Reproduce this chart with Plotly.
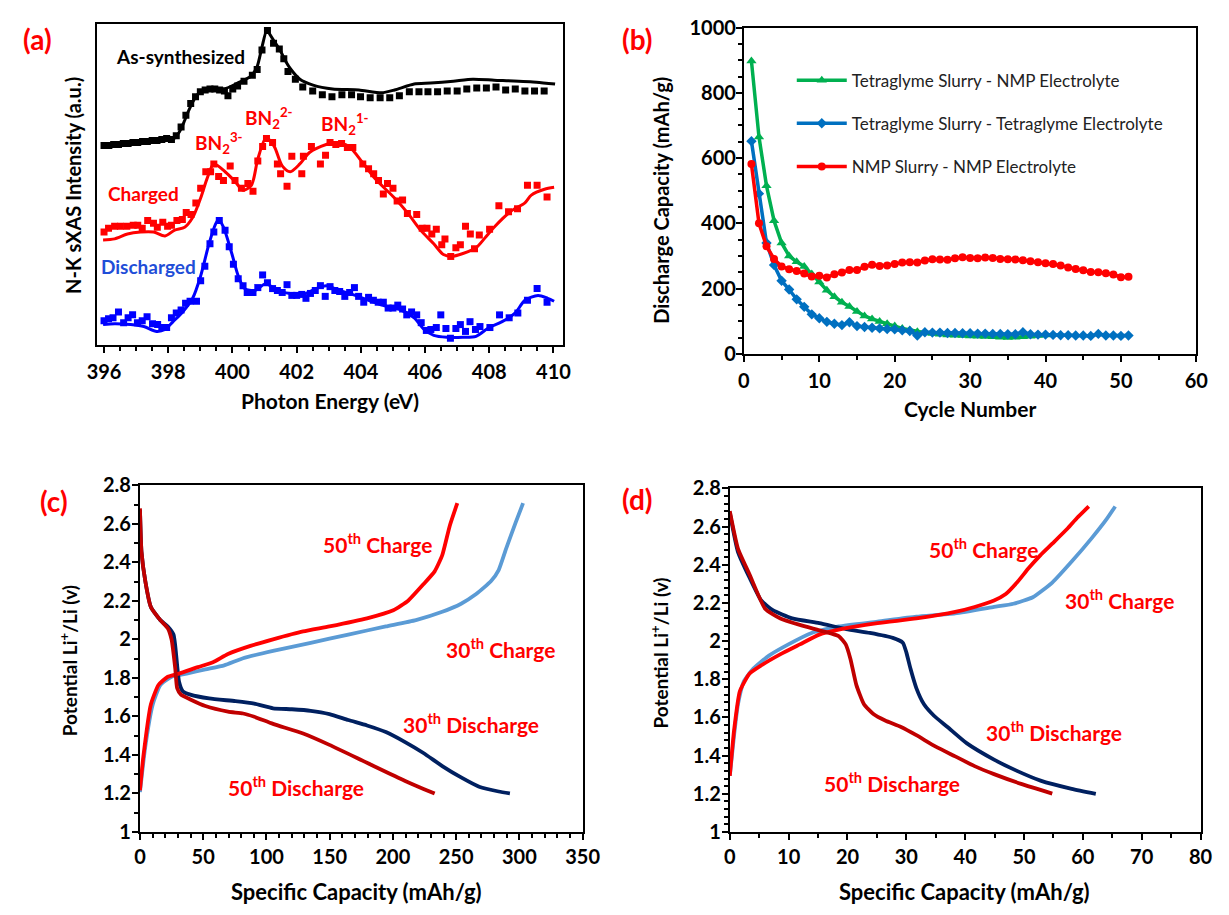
import plotly.graph_objects as go

FONT = "Lato"
W, H = 1229, 915

# ---------------- Panel (a): N-K sXAS ----------------
E_as_line = [396.0, 396.9, 397.8, 398.1, 398.33, 398.49, 398.64, 398.84, 399.04, 399.35, 399.75, 400.16,
             400.57, 400.77, 400.92, 401.07, 401.28, 401.48, 401.65, 401.8, 402.1, 402.51, 403.12, 403.94,
             404.65, 405.05, 405.66, 406.17, 406.88, 407.49, 408.15, 409.47, 410.05]
I_as_line = [205, 208, 211, 210, 218, 229, 241, 254, 261, 264, 263, 269,
             276, 286, 306, 323, 313, 303, 292, 284, 273, 267, 263, 262,
             259, 262, 268, 269, 271, 273, 272, 270, 268]
E_as_pts = [396.0, 396.15, 396.3, 396.45, 396.6, 396.75, 396.9, 397.05, 397.2, 397.35, 397.5, 397.65, 397.8,
            397.95, 398.1, 398.25, 398.4, 398.55, 398.7, 398.85, 399.0, 399.15, 399.3, 399.45, 399.6, 399.75,
            399.86, 400.01, 400.16, 400.36, 400.62, 400.77, 400.92, 401.09, 401.28, 401.46, 401.6, 401.73,
            401.96, 402.19, 402.5, 402.8, 403.1, 403.41, 403.71, 403.99, 404.29, 404.6, 404.9, 405.2, 405.51,
            405.81, 406.09, 406.39, 406.69, 407.0, 407.3, 407.61, 407.91, 408.21, 408.51, 408.81, 409.11,
            409.41, 409.71]
I_as_pts = [205, 205, 206, 206, 207, 207, 208, 208, 209, 209, 210, 210, 211,
            212, 211, 215, 224, 236, 248, 255, 260, 262, 263, 263, 262, 261,
            256, 263, 266, 271, 277, 283, 303, 323, 310, 304, 294, 281,
            273, 265, 261, 257, 255, 257, 257, 255, 254, 254, 254, 256, 260,
            260, 260, 260, 261, 261, 263, 264, 264, 265, 262, 263, 261,
            261, 261]

E_ch_line = [395.97, 396.33, 396.73, 397.14, 397.54, 397.9, 398.2, 398.51, 398.76, 399.01, 399.22, 399.42,
             399.77, 400.08, 400.33, 400.59, 400.79, 401.05, 401.3, 401.55, 401.8, 402.1, 402.41, 402.92,
             403.22, 403.63, 404.04, 404.44, 405.05, 405.45, 405.86, 406.27, 406.57, 406.83, 407.18, 407.59,
             407.89, 408.15, 408.7, 409.11, 409.31, 409.72, 410.02]
I_ch_line = [108, 109, 114, 116, 116, 112, 118, 121, 131, 151, 172, 186,
             178, 168, 159, 164, 191, 213, 204, 184, 178, 186, 198, 206,
             208, 204, 188, 171, 151, 136, 118, 104, 93, 91, 94, 100,
             111, 121, 138, 146, 154, 160, 162]
E_ch_pts = [396.0, 396.14, 396.33, 396.51, 396.71, 396.91, 397.05, 397.19, 397.36, 397.54,
            397.66, 397.83, 397.98, 398.1, 398.27, 398.44, 398.56, 398.71, 398.86, 399.01,
            399.17, 399.32, 399.42, 399.57, 399.72, 399.93, 400.08, 400.28, 400.48, 400.64,
            400.79, 400.94, 401.06, 401.25, 401.4, 401.5, 401.7, 401.85, 402.16, 402.21,
            402.46, 402.74, 402.9, 403.04, 403.22, 403.4, 403.58, 403.75, 404.06, 404.24,
            404.4, 404.55, 404.7, 404.83, 405.0, 405.13, 405.3, 405.45, 405.74, 405.91,
            406.06, 406.21, 406.35, 406.52, 406.62, 406.8, 406.96, 407.1, 407.26, 407.41,
            407.54, 407.69, 408.01, 408.3, 408.6, 408.88, 409.19, 409.49, 409.8]
I_ch_pts = [116, 120, 122, 122, 122, 123, 123, 120, 128, 125,
            121, 126, 122, 123, 128, 129, 136, 134, 146, 161,
            178, 178, 186, 173, 169, 184, 169, 161, 166, 158,
            189, 204, 212, 208, 186, 176, 163, 194, 176, 194,
            204, 186, 195, 208, 206, 207, 203, 203, 186, 181,
            176, 169, 155, 166, 161, 148, 149, 135, 134, 120,
            120, 114, 119, 103, 109, 91, 100, 103, 122, 114,
            99, 113, 119, 143, 137, 140, 164, 164, 152]

E_dis_line = [395.97, 396.33, 396.83, 397.24, 397.64, 397.9, 398.15, 398.45, 398.76, 399.01,
              399.27, 399.47, 399.57, 399.72, 399.98, 400.18, 400.38, 400.69, 401.04, 401.4,
              401.8, 402.21, 402.61, 402.92, 403.33, 403.73, 404.24, 404.65, 405.25, 405.66,
              405.97, 406.27, 406.68, 407.18, 407.59, 407.99, 408.4, 408.81, 409.11, 409.52,
              409.82, 410.02]
I_dis_line = [21, 22, 21, 19, 14, 16, 24, 34, 48, 71,
              104, 124, 129, 121, 94, 71, 58, 56, 63, 56,
              53, 52, 58, 61, 56, 52, 46, 41, 36, 28,
              16, 10, 8, 8, 9, 18, 24, 33, 46, 51,
              48, 45]
E_dis_pts = [396.0, 396.14, 396.28, 396.45, 396.61, 396.75, 396.89, 397.04, 397.19, 397.34,
             397.51, 397.67, 397.8, 397.95, 398.1, 398.25, 398.4, 398.54, 398.68, 398.88,
             399.01, 399.14, 399.3, 399.42, 399.59, 399.77, 399.9, 400.03, 400.18, 400.33,
             400.46, 400.64, 400.79, 400.94, 401.09, 401.25, 401.4, 401.55, 401.7, 401.85,
             402.0, 402.16, 402.29, 402.43, 402.58, 402.74, 402.89, 403.04, 403.19, 403.34,
             403.5, 403.65, 403.8, 403.93, 404.09, 404.24, 404.39, 404.54, 404.7, 404.85,
             405.0, 405.15, 405.3, 405.43, 405.58, 405.74, 405.88, 406.04, 406.18, 406.35,
             406.49, 406.65, 406.79, 406.96, 407.1, 407.26, 407.4, 407.57, 407.71, 408.02,
             408.32, 408.62, 408.89, 409.19, 409.49, 409.8]
I_dis_pts = [25, 27, 28, 34, 23, 28, 31, 23, 25, 29,
             22, 21, 18, 18, 28, 33, 36, 43, 45, 45,
             66, 81, 104, 116, 128, 118, 101, 83, 68, 61,
             54, 54, 59, 72, 64, 58, 56, 54, 62, 51,
             51, 52, 48, 53, 56, 61, 50, 60, 56, 55,
             50, 54, 59, 50, 44, 49, 46, 44, 44, 38,
             38, 41, 37, 31, 34, 31, 23, 15, 16, 18,
             31, 17, 7, 17, 21, 14, 24, 16, 19, 18,
             31, 28, 33, 46, 58, 44]

# ---------------- Panel (b): cycling ----------------
cycles_green = list(range(1, 41))
cap_green = [898, 665, 515, 408, 340, 300, 282, 268, 245, 220,
             195, 175, 158, 145, 130, 116, 107, 99, 92, 85,
             78, 73, 68, 65, 62, 60, 58, 57, 56, 55,
             54, 53, 52, 51, 50, 51, 52, 54, 56, 58]
cycles_blue = list(range(1, 52))
cap_blue = [652, 491, 340, 272, 224, 197, 167, 144, 121, 109,
            98, 92, 88, 97, 85, 82, 80, 78, 76, 75,
            72, 70, 56, 66, 65, 65, 64, 64, 63, 63,
            62, 62, 61, 61, 60, 60, 66, 60, 59, 59,
            58, 57, 57, 56, 56, 55, 61, 56, 56, 55, 56]
cycles_red = list(range(1, 52))
cap_red = [582, 400, 330, 291, 268, 259, 254, 246, 237, 239,
           234, 244, 249, 257, 257, 267, 273, 269, 271, 275,
           280, 281, 280, 286, 290, 289, 288, 293, 296, 294,
           293, 295, 294, 291, 290, 289, 287, 284, 281, 278,
           275, 271, 265, 260, 256, 251, 250, 247, 243, 235, 236]

# ---------------- Panel (c) ----------------
c30_ch_cap = [0, 4.2, 10.1, 16.1, 25, 36.9, 51.7, 66.6, 81.5, 105.2, 135, 164.7, 194.4, 218.2, 239,
              253.9, 265.8, 277.6, 283.6, 289.5, 297, 302.9]
c30_ch_v = [1.207, 1.443, 1.662, 1.763, 1.806, 1.822, 1.844, 1.865, 1.902, 1.94, 1.982, 2.025, 2.067, 2.1,
            2.143, 2.185, 2.235, 2.303, 2.36, 2.471, 2.606, 2.707]
c50_ch_cap = [0, 2.7, 8.6, 14.6, 22, 30.9, 45.8, 57.7, 69.6, 87.4, 105.2, 129, 149.8, 179.5, 200.3,
              212.2, 224.1, 233, 239, 244.9, 250.9]
c50_ch_v = [1.216, 1.393, 1.662, 1.763, 1.806, 1.822, 1.856, 1.881, 1.924, 1.966, 2.0, 2.041, 2.067,
            2.109, 2.151, 2.202, 2.286, 2.353, 2.437, 2.589, 2.707]
c30_dis_cap = [0, 1.2, 4.2, 8.6, 16.1, 22, 26.5, 27.9, 29.4, 30.9, 33.9, 39.8, 54.7, 75.5, 90.4, 105.2,
               120.1, 135, 149.8, 164.7, 179.5, 194.4, 209.3, 224.1, 239, 253.9, 268.7, 283.6, 292.5]
c30_dis_v = [2.673, 2.454, 2.303, 2.168, 2.1, 2.067, 2.025, 1.966, 1.864, 1.78, 1.73, 1.713, 1.693,
             1.679, 1.666, 1.642, 1.637, 1.629, 1.612, 1.581, 1.553, 1.519, 1.468, 1.41, 1.342, 1.283,
             1.233, 1.21, 1.2]
c50_dis_cap = [0, 1.2, 4.2, 8.6, 16.1, 22, 25, 27.9, 29.4, 32.4, 39.8, 51.7, 69.6, 81.5, 90.4, 105.2,
               129, 149.8, 179.5, 209.3, 233]
c50_dis_v = [2.68, 2.454, 2.303, 2.168, 2.1, 2.058, 1.999, 1.848, 1.746, 1.713, 1.688, 1.654, 1.625,
             1.615, 1.598, 1.561, 1.511, 1.452, 1.359, 1.266, 1.199]

# ---------------- Panel (d) ----------------
d30_ch_cap = [0, 0.7, 1.38, 2.37, 4.0, 6.66, 9.95, 13.9, 18.5, 25.1, 31.7, 38.3, 44.9, 48.2, 51.5,
              54.8, 58.1, 61.4, 64.0, 65.5]
d30_ch_v = [1.294, 1.5, 1.669, 1.788, 1.856, 1.924, 1.983, 2.043, 2.077, 2.102, 2.128, 2.145, 2.179,
            2.196, 2.23, 2.307, 2.417, 2.536, 2.638, 2.706]
d50_ch_cap = [0, 0.72, 1.7, 3.36, 5.34, 8.63, 11.9, 15.2, 18.5, 25.1, 31.7, 38.3, 41.6, 44.9, 46.9,
              48.8, 50.8, 52.8, 54.8, 57.4, 59.0, 61.0]
d50_ch_v = [1.294, 1.532, 1.737, 1.83, 1.873, 1.932, 1.983, 2.034, 2.06, 2.094, 2.119, 2.153, 2.179,
            2.213, 2.247, 2.307, 2.383, 2.451, 2.511, 2.59, 2.645, 2.706]
d30_dis_cap = [0, 1.38, 3.36, 5.34, 7.3, 10.6, 15.2, 19.8, 23.8, 27.7, 29.4, 30.0, 30.7, 31.7, 33.0,
               34.7, 37.0, 40.3, 44.9, 48.8, 52.8, 58.1, 62.2]
d30_dis_v = [2.672, 2.468, 2.332, 2.213, 2.162, 2.119, 2.094, 2.063, 2.043, 2.017, 1.992, 1.941, 1.856,
             1.754, 1.669, 1.609, 1.55, 1.464, 1.379, 1.32, 1.269, 1.226, 1.2]
d50_dis_cap = [0, 1.38, 3.36, 6.0, 8.6, 11.9, 15.9, 18.5, 19.7, 20.5, 21.5, 22.8, 24.4, 26.4, 29.1,
               31.7, 35.0, 38.3, 41.6, 44.9, 49.5, 54.8]
d50_dis_v = [2.681, 2.485, 2.349, 2.17, 2.119, 2.085, 2.051, 2.026, 1.983, 1.907, 1.771, 1.669, 1.618,
             1.584, 1.55, 1.507, 1.447, 1.396, 1.345, 1.303, 1.252, 1.201]

# colours
BLACK, RED, BLUE = "#000000", "#FF0000", "#0000FF"
GREEN_B, BLUE_B = "#00B050", "#0070C0"
LIGHTBLUE, NAVY, DARKRED = "#5B9BD5", "#002060", "#C00000"

fig = go.Figure()

def line(x, y, color, xa, ya, width=3, smooth=0.8):
    fig.add_trace(go.Scatter(x=x, y=y, mode="lines", xaxis=xa, yaxis=ya, showlegend=False,
                             line=dict(color=color, width=width, shape="spline", smoothing=smooth),
                             hoverinfo="skip"))

def pts(x, y, color, xa, ya):
    fig.add_trace(go.Scatter(x=x, y=y, mode="markers", xaxis=xa, yaxis=ya, showlegend=False,
                             marker=dict(symbol="square", size=7, color=color), hoverinfo="skip"))

# panel a
pts(E_as_pts, I_as_pts, BLACK, "x", "y")
line(E_as_line, I_as_line, BLACK, "x", "y", smooth=0.6)
pts(E_ch_pts, I_ch_pts, RED, "x", "y")
line(E_ch_line, I_ch_line, RED, "x", "y", smooth=0.8)
pts(E_dis_pts, I_dis_pts, BLUE, "x", "y")
line(E_dis_line, I_dis_line, BLUE, "x", "y", smooth=0.8)

# panel b
fig.add_trace(go.Scatter(x=cycles_green, y=cap_green, mode="lines+markers", xaxis="x2", yaxis="y2",
                         name="Tetraglyme Slurry - NMP Electrolyte", legendgroup="g1",
                         line=dict(color=GREEN_B, width=3.5),
                         marker=dict(symbol="triangle-up", size=9, color=GREEN_B)))
fig.add_trace(go.Scatter(x=cycles_blue, y=cap_blue, mode="lines+markers", xaxis="x2", yaxis="y2",
                         name="Tetraglyme Slurry - Tetraglyme Electrolyte", legendgroup="g2",
                         line=dict(color=BLUE_B, width=3.5),
                         marker=dict(symbol="diamond", size=8, color=BLUE_B)))
fig.add_trace(go.Scatter(x=cycles_red, y=cap_red, mode="lines+markers", xaxis="x2", yaxis="y2",
                         name="NMP Slurry - NMP Electrolyte", legendgroup="g3",
                         line=dict(color=RED, width=3.5),
                         marker=dict(symbol="circle", size=8, color=RED)))

# panel c
line(c30_ch_cap, c30_ch_v, LIGHTBLUE, "x3", "y3", width=3.8, smooth=0.5)
line(c30_dis_cap, c30_dis_v, NAVY, "x3", "y3", width=3.8, smooth=0.5)
line(c50_ch_cap, c50_ch_v, RED, "x3", "y3", width=3.8, smooth=0.5)
line(c50_dis_cap, c50_dis_v, DARKRED, "x3", "y3", width=3.8, smooth=0.5)

# panel d
line(d30_ch_cap, d30_ch_v, LIGHTBLUE, "x4", "y4", width=3.8, smooth=0.5)
line(d30_dis_cap, d30_dis_v, NAVY, "x4", "y4", width=3.8, smooth=0.5)
line(d50_ch_cap, d50_ch_v, RED, "x4", "y4", width=3.8, smooth=0.5)
line(d50_dis_cap, d50_dis_v, DARKRED, "x4", "y4", width=3.8, smooth=0.5)

def px(x):
    return x / W

def py(y):
    return 1 - y / H

tickfont = dict(family=FONT, size=20, color="black", weight="bold")

def axis(domain, rng, dtick, minor_dtick, anchor, show_labels=True, ticks="outside", tick0=None,
         minor_len=4, standoff=2):
    d = dict(domain=domain, range=rng, anchor=anchor, showline=True, linecolor="black", linewidth=2,
             mirror=True, showgrid=False, zeroline=False, ticks=ticks, ticklen=6, tickwidth=2,
             tickcolor="black", tickfont=tickfont, showticklabels=show_labels, dtick=dtick,
             ticklabelstandoff=standoff, fixedrange=True)
    if tick0 is not None:
        d["tick0"] = tick0
    if minor_dtick:
        d["minor"] = dict(dtick=minor_dtick, ticks="outside", ticklen=minor_len, tickwidth=1.5,
                          tickcolor="black", showgrid=False)
    return d

layout = dict(
    width=W, height=H, margin=dict(l=0, r=0, t=0, b=0),
    paper_bgcolor="white", plot_bgcolor="white",
    font=dict(family=FONT, color="black"),
    xaxis=axis([px(89), px(566)], [395.78, 410.3], 2, 0.5, "y", tick0=396),
    yaxis=axis([py(341), py(11)], [0, 330], None, None, "x", show_labels=False, ticks=""),
    xaxis2=axis([px(751), px(1214)], [0, 60], 10, 5, "y2"),
    yaxis2=axis([py(350), py(15)], [0, 1000], 200, 50, "x2", standoff=-4),
    xaxis3=axis([px(133), px(586)], [0, 350], 50, 10, "y3", standoff=0),
    yaxis3=axis([py(841), py(485)], [1, 2.8], 0.2, 0.1, "x3", standoff=-3),
    xaxis4=axis([px(736.6), px(1218.3)], [0, 80], 10, 5, "y4", standoff=0),
    yaxis4=axis([py(841), py(488.3)], [1, 2.8], 0.2, 0.04, "x4", standoff=-3),
    showlegend=True,
    legend=dict(x=px(800), y=py(51), xanchor="left", yanchor="top", bgcolor="rgba(0,0,0,0)",
                font=dict(family=FONT, size=17, color="#222222"), tracegroupgap=18,
                itemwidth=50),
)
fig.update_layout(**layout)

ann = []

def paper_text(text, x, y, size=19, color="black", angle=0, bold=True):
    ann.append(dict(text=f"<b>{text}</b>" if bold else text, x=px(x), y=py(y), xref="paper",
                    yref="paper", showarrow=False, textangle=angle,
                    font=dict(family=FONT, size=size, color=color), xanchor="center",
                    yanchor="middle"))

def data_text(text, x, y, xr, yr, color, size=21):
    ann.append(dict(text=f"<b>{text}</b>", x=x, y=y, xref=xr, yref=yr, showarrow=False,
                    font=dict(family=FONT, size=size, color=color), xanchor="center",
                    yanchor="middle"))

# panel letters
paper_text("(a)", 28, 27, size=28, color=RED)
paper_text("(b)", 642, 27, size=28, color=RED)
paper_text("(c)", 45, 501, size=28, color=RED)
paper_text("(d)", 642, 499, size=28, color=RED)

# axis titles
paper_text("Photon Energy (eV)", 327.5, 398, size=21)
paper_text("N-K sXAS Intensity (a.u.)", 65, 177, size=20, angle=-90)
paper_text("Cycle Number", 982, 406, size=21)
paper_text("Discharge Capacity (mAh/g)", 666, 192, size=20, angle=-90)
paper_text("Specific Capacity (mAh/g)", 355, 902, size=22)
paper_text("Potential Li<sup>+</sup>/Li (v)", 60, 665, size=19, angle=-90)
paper_text("Specific Capacity (mAh/g)", 977, 902, size=22)
paper_text("Potential Li<sup>+</sup>/Li (v)", 665, 657, size=19, angle=-90)

# panel a labels
data_text("As-synthesized", 398.37, 296, "x", "y", BLACK, size=19)
data_text("Charged", 397.22, 156, "x", "y", RED, size=19)
data_text("Discharged", 397.37, 81, "x", "y", "#1F4ED8", size=19)
data_text("BN<sub>2</sub><sup>3-</sup>", 399.59, 207, "x", "y", RED, size=19)
data_text("BN<sub>2</sub><sup>2-</sup>", 401.14, 233, "x", "y", RED, size=19)
data_text("BN<sub>2</sub><sup>1-</sup>", 403.52, 227, "x", "y", RED, size=19)

# panel c labels
data_text("50<sup>th</sup> Charge", 187.8, 2.50, "x3", "y3", RED)
data_text("30<sup>th</sup> Charge", 284.8, 1.955, "x3", "y3", RED)
data_text("30<sup>th</sup> Discharge", 262, 1.566, "x3", "y3", RED)
data_text("50<sup>th</sup> Discharge", 123.7, 1.238, "x3", "y3", RED)

# panel d labels
data_text("50<sup>th</sup> Charge", 43.1, 2.49, "x4", "y4", RED)
data_text("30<sup>th</sup> Charge", 66.3, 2.22, "x4", "y4", RED)
data_text("30<sup>th</sup> Discharge", 55.1, 1.53, "x4", "y4", RED)
data_text("50<sup>th</sup> Discharge", 27.5, 1.26, "x4", "y4", RED)

fig.update_layout(annotations=ann)
fig.write_html("out.html")
